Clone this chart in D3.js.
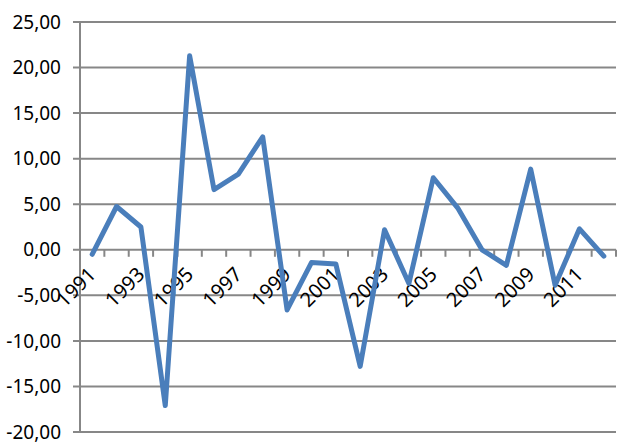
<!DOCTYPE html>
<html lang="en">
<head>
<meta charset="UTF-8">
<title>Line chart</title>
<script src="https://d3js.org/d3.v7.min.js"></script>
<style>
    body {
        margin: 0;
        padding: 0;
        background-color: #ffffff;
    }
    svg {
        display: block;
    }
    .tick-label {
        font-family: "Noto Sans", sans-serif;
        font-size: 19px;
        fill: #000;
    }
    .year-label {
        font-size: 20px;
    }
</style>
</head>
<body>
<svg id="chart" width="639" height="447"></svg>
<script>
    // Data
    const years = ["1991", "1992", "1993", "1994", "1995", "1996", "1997", "1998", "1999", "2000",
        "2001", "2002", "2003", "2004", "2005", "2006", "2007", "2008", "2009", "2010", "2011", "2012"];
    const values = [-0.5, 4.75, 2.5, -17.1, 21.3, 6.6, 8.3, 12.4, -6.6, -1.4,
        -1.55, -12.8, 2.2, -3.7, 7.9, 4.6, 0.0, -1.7, 8.85, -3.9, 2.3, -0.7];
    const yTicks = [-20, -15, -10, -5, 0, 5, 10, 15, 20, 25];
    const xLabelYears = ["1991", "1993", "1995", "1997", "1999", "2001", "2003", "2005", "2007", "2009", "2011"];

    const svg = d3.select('#chart');
    const plotLeft = 80, plotRight = 616, plotTop = 22, plotBottom = 432;

    const x = d3.scaleBand().domain(years).range([plotLeft, plotRight]);
    const y = d3.scaleLinear().domain([-20, 25]).range([plotBottom, plotTop]);

    const fmt = v => d3.format(".2f")(v).replace(".", ",").replace("−", "-");

    // horizontal gridlines + y ticks
    svg.append('g')
        .selectAll('line')
        .data(yTicks)
        .join('line')
        .attr('x1', plotLeft - 7)
        .attr('x2', plotRight)
        .attr('y1', d => y(d))
        .attr('y2', d => y(d))
        .attr('stroke', '#878787')
        .attr('stroke-width', 2);

    svg.append('g')
        .selectAll('text')
        .data(yTicks)
        .join('text')
        .attr('class', 'tick-label')
        .attr('x', plotLeft - 19)
        .attr('y', d => y(d))
        .attr('dy', '0.35em')
        .attr('text-anchor', 'end')
        .text(d => fmt(d));

    // vertical axis line
    svg.append('line')
        .attr('x1', plotLeft).attr('x2', plotLeft)
        .attr('y1', plotTop).attr('y2', plotBottom)
        .attr('stroke', '#878787')
        .attr('stroke-width', 2);

    // x ticks at category boundaries, on the zero line
    const boundaries = years.map(d => x(d)).concat([plotRight]);
    svg.append('g')
        .selectAll('line')
        .data(boundaries.slice(1))
        .join('line')
        .attr('x1', d => d).attr('x2', d => d)
        .attr('y1', y(0)).attr('y2', y(0) + 7)
        .attr('stroke', '#878787')
        .attr('stroke-width', 2);

    // rotated year labels
    svg.append('g')
        .selectAll('text')
        .data(xLabelYears)
        .join('text')
        .attr('class', 'tick-label year-label')
        .attr('text-anchor', 'end')
        .attr('transform', d => `translate(${x(d) + x.bandwidth() / 2 + 5},${y(0) + 26}) rotate(-45)`)
        .text(d => d);

    // series line
    const line = d3.line()
        .x((d, i) => x(years[i]) + x.bandwidth() / 2)
        .y(d => y(d));

    svg.append('path')
        .datum(values)
        .attr('fill', 'none')
        .attr('stroke', '#4a7ebb')
        .attr('stroke-width', 5)
        .attr('stroke-linejoin', 'round')
        .attr('stroke-linecap', 'round')
        .attr('d', line);
</script>
</body>
</html>
